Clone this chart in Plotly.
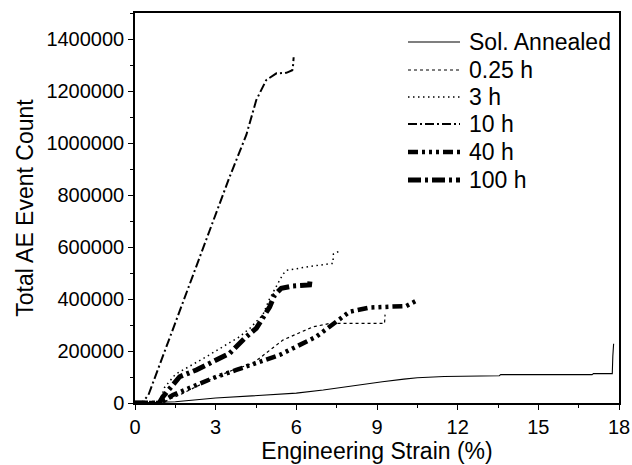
import plotly.graph_objects as go

# Acoustic emission: cumulative event count vs engineering strain
series_names = ["Sol. Annealed", "0.25 h", "3 h", "10 h", "40 h", "100 h"]

strain_sol = [0, 0.5, 1.5, 3.0, 4.5, 6.0, 7.0, 7.7, 8.5, 9.2, 10.0, 10.5, 11.5, 12.8, 13.55, 13.6, 17.0, 17.05, 17.75, 17.77, 17.8]
count_sol = [0, 1000, 5000, 19000, 28000, 38000, 50000, 61000, 72000, 82000, 92000, 97000, 102000, 105000, 105000, 109000, 109000, 113000, 113000, 180000, 228000]

strain_025 = [0, 1.0, 1.3, 1.78, 2.9, 3.6, 4.39, 5.0, 5.5, 6.0, 6.62, 7.2, 7.49, 9.28, 9.3]
count_025 = [0, 0, 15000, 37000, 95000, 125000, 153000, 200000, 242000, 265000, 293000, 305000, 306000, 306000, 340000]

strain_3 = [0, 0.9, 1.1, 1.5, 2.65, 3.89, 4.3, 4.76, 5.0, 5.26, 5.5, 5.63, 6.49, 7.36, 7.38, 7.67]
count_3 = [0, 0, 60000, 110000, 178000, 255000, 290000, 340000, 400000, 447000, 495000, 510000, 525000, 537000, 573000, 588000]

strain_10 = [0, 0.3, 0.5, 1.5, 2.78, 3.52, 4.14, 4.51, 4.88, 5.26, 5.63, 5.85, 5.88, 5.9]
count_10 = [0, 5000, 31000, 311000, 665000, 870000, 1031000, 1165000, 1242000, 1268000, 1270000, 1280000, 1300000, 1330000]

strain_40 = [0, 0.9, 1.1, 1.41, 2.28, 3.03, 3.77, 4.51, 5.38, 6.0, 6.74, 7.49, 7.98, 8.72, 9.47, 10.09, 10.46]
count_40 = [0, 0, 10000, 31000, 69000, 101000, 127000, 153000, 185000, 217000, 255000, 313000, 351000, 367000, 368000, 373000, 393000]

strain_100 = [0, 0.9, 1.04, 1.66, 2.28, 2.78, 3.52, 4.14, 4.51, 5.01, 5.19, 5.44, 5.87, 6.49, 6.52]
count_100 = [0, 0, 24000, 101000, 127000, 153000, 191000, 255000, 287000, 370000, 415000, 441000, 450000, 454000, 480000]

x_ticks = [0, 3, 6, 9, 12, 15, 18]
y_ticks = [0, 200000, 400000, 600000, 800000, 1000000, 1200000, 1400000]

xs = [strain_sol, strain_025, strain_3, strain_10, strain_40, strain_100]
ys = [count_sol, count_025, count_3, count_10, count_40, count_100]

styles = [
    dict(width=1.1, dash="solid"),
    dict(width=1.2, dash="3px,3px"),
    dict(width=1.5, dash="1.5px,3.5px"),
    dict(width=2, dash="9px,3px,2px,3px"),
    dict(width=4.5, dash="10px,4px,3px,4px,3px,4px,3px,4px"),
    dict(width=5, dash="13px,4px,3px,4px"),
]

FONT = "Arial, Liberation Sans, sans-serif"
W, H = 632, 465
ML, MR, MT, MB = 135, 13, 13, 62
PW, PH = W - ML - MR, H - MT - MB

fig = go.Figure()
for name, x, y, st in zip(series_names, xs, ys, styles):
    fig.add_trace(go.Scatter(x=x, y=y, mode="lines", name=name,
                             line=dict(color="black", **st), showlegend=False))

# Legend drawn in paper coordinates so the line samples can be longer
leg_rows = [42, 70, 97, 124, 152, 180]
for name, st, py in zip(series_names, styles, leg_rows):
    yp = (H - MB - py) / PH
    fig.add_shape(type="line", xref="paper", yref="paper",
                  x0=(408 - ML) / PW, x1=(460 - ML) / PW, y0=yp, y1=yp,
                  line=dict(color="black", **st))
    fig.add_annotation(xref="paper", yref="paper", x=(467 - ML) / PW, y=yp,
                       text=name, showarrow=False, xanchor="left", yanchor="middle",
                       font=dict(family=FONT, size=23, color="black"))

axis_common = dict(showline=True, linecolor="black", linewidth=1.5, mirror=True,
                   showgrid=False, zeroline=False, ticks="outside", ticklen=5,
                   tickwidth=1.2, tickcolor="black", automargin=False,
                   tickfont=dict(family=FONT, size=20, color="black"))

fig.update_xaxes(range=[0, 18], tickvals=x_ticks, ticktext=[str(v) for v in x_ticks],
                 minor=dict(dtick=1.5, ticks="outside", ticklen=3, tickcolor="black"),
                 title=dict(text="Engineering Strain (%)", standoff=6,
                            font=dict(family=FONT, size=23, color="black")),
                 **axis_common)
fig.update_yaxes(range=[0, 1500000], tickvals=y_ticks, ticktext=[str(v) for v in y_ticks],
                 minor=dict(dtick=100000, ticks="outside", ticklen=3, tickcolor="black"),
                 title=dict(text="Total AE Event Count", standoff=6,
                            font=dict(family=FONT, size=23, color="black")),
                 **axis_common)

fig.update_layout(width=W, height=H, margin=dict(l=ML, r=MR, t=MT, b=MB),
                  paper_bgcolor="white", plot_bgcolor="white", showlegend=False)

fig.write_html("out.html")
